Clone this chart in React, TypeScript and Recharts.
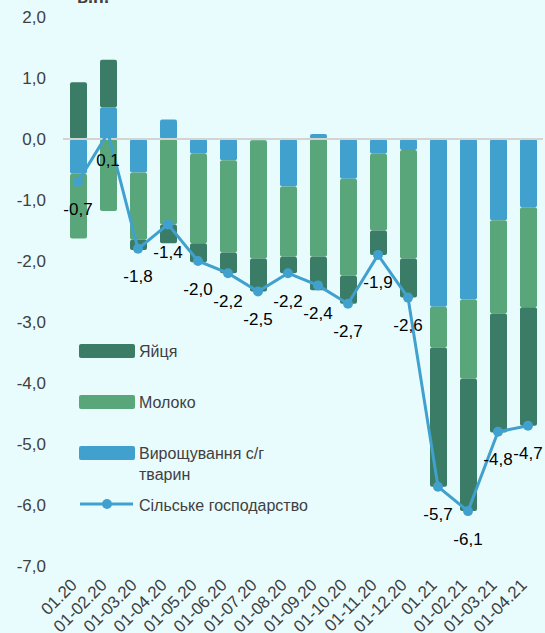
import { ComposedChart, Bar, Line, XAxis, YAxis, ReferenceLine, LabelList } from 'recharts'

const months = ['01.20', '01-02.20', '01-03.20', '01-04.20', '01-05.20', '01-06.20', '01-07.20', '01-08.20',
  '01-09.20', '01-10.20', '01-11.20', '01-12.20', '01.21', '01-02.21', '01-03.21', '01-04.21']
const livestock = [-0.57, 0.52, -0.55, 0.32, -0.24, -0.35, -0.02, -0.78, 0.08, -0.65, -0.24, -0.18, -2.75, -2.63, -1.33, -1.12]
const milk = [-1.06, -1.18, -1.1, -1.4, -1.47, -1.51, -1.94, -1.15, -1.93, -1.59, -1.26, -1.78, -0.67, -1.3, -1.53, -1.64]
const eggs = [0.93, 0.78, -0.17, -0.31, -0.31, -0.34, -0.54, -0.27, -0.55, -0.46, -0.4, -0.64, -2.28, -2.17, -1.95, -1.94]
const agriculture = [-0.7, 0.1, -1.8, -1.4, -2.0, -2.2, -2.5, -2.2, -2.4, -2.7, -1.9, -2.6, -5.7, -6.1, -4.8, -4.7]
const yTicks = [2, 1, 0, -1, -2, -3, -4, -5, -6, -7]

const BG = '#e9fcfd'
const DARK = '#3b7c66'
const GREEN = '#5aa67b'
const BLUE = '#40a1cf'
const FONT = '"Liberation Sans", Arial, sans-serif'

const fmt = (v: number) => v.toFixed(1).replace('.', ',')

const data = months.map((m, i) => ({
  month: m,
  livestock: livestock[i],
  milk: milk[i],
  eggs: eggs[i],
  total: agriculture[i],
}))

function YTick({ y, payload }: any) {
  return (
    <text x={46} y={y} textAnchor="end" dominantBaseline="central" fontSize={17} fill="#404040" fontFamily={FONT}>
      {fmt(payload.value)}
    </text>
  )
}

function XTick({ x, payload }: any) {
  return (
    <text x={x} y={586} textAnchor="end" fontSize={17} fill="#404040" fontFamily={FONT}
      transform={`rotate(-45 ${x} 586)`}>
      {payload.value}
    </text>
  )
}

function PointLabel({ x, y, value }: any) {
  return (
    <text x={x} y={y + 28} textAnchor="middle" dominantBaseline="central" fontSize={17} fill="#000" fontFamily={FONT}>
      {fmt(value)}
    </text>
  )
}

const legendItems = [
  { name: 'Яйця', color: DARK, y: 351 },
  { name: 'Молоко', color: GREEN, y: 402 },
  { name: 'Вирощування  с/г', color: BLUE, y: 453 },
]

export default function App() {
  return (
    <div style={{ width: 545, height: 633, background: BG, position: 'relative', overflow: 'hidden' }}>
      <style>{'body{margin:0}'}</style>
      <ComposedChart width={545} height={633} data={data} stackOffset="sign"
        margin={{ top: 17, right: 2, bottom: 0, left: 0 }}>
        <ReferenceLine y={0} stroke="#d3d3d3" strokeWidth={2} ifOverflow="extendDomain" />
        <XAxis dataKey="month" axisLine={false} tickLine={false} height={67} interval={0} tick={<XTick />} />
        <YAxis width={63} domain={[-7, 2]} ticks={yTicks} axisLine={false} tickLine={false} tick={<YTick />} />
        <Bar dataKey="livestock" stackId="a" fill={BLUE} barSize={17} radius={2} isAnimationActive={false} />
        <Bar dataKey="milk" stackId="a" fill={GREEN} barSize={17} radius={2} isAnimationActive={false} />
        <Bar dataKey="eggs" stackId="a" fill={DARK} barSize={17} radius={2} isAnimationActive={false} />
        <Line dataKey="total" stroke={BLUE} strokeWidth={3} dot={{ r: 5, fill: BLUE, stroke: BLUE, strokeWidth: 0 }}
          isAnimationActive={false}>
          <LabelList dataKey="total" content={<PointLabel />} />
        </Line>
      </ComposedChart>

      <svg width={545} height={633} style={{ position: 'absolute', left: 0, top: 0, pointerEvents: 'none' }}>
        <text x={77} y={3} fontSize={18} fontWeight="bold" fill="#404040" fontFamily={FONT}>в.п.</text>
        {legendItems.map(item => (
          <g key={item.name}>
            <rect x={79} y={item.y - 7} width={56} height={14} rx={2} fill={item.color} />
            <text x={139} y={item.y} dominantBaseline="central" fontSize={16} fill="#404040" fontFamily={FONT}>
              {item.name}
            </text>
          </g>
        ))}
        <text x={139} y={474} dominantBaseline="central" fontSize={16} fill="#404040" fontFamily={FONT}>тварин</text>
        <line x1={80} x2={133} y1={504} y2={504} stroke={BLUE} strokeWidth={3} />
        <circle cx={107} cy={504} r={5} fill={BLUE} />
        <text x={139} y={505} dominantBaseline="central" fontSize={16} fill="#404040" fontFamily={FONT}>
          Сільське господарство
        </text>
      </svg>
    </div>
  )
}
